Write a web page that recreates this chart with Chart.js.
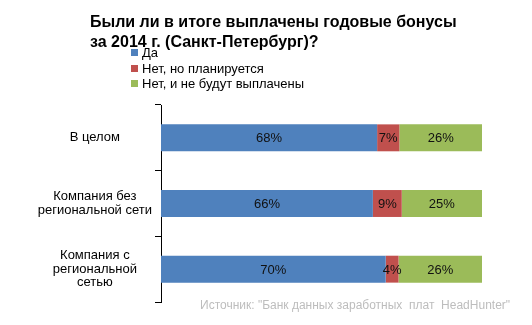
<!DOCTYPE html>
<html>
<head>
<meta charset="utf-8">
<script src="https://cdn.jsdelivr.net/npm/chart.js@4"></script>
<style>
  body { margin: 0; background: #fff; font-family: "Liberation Sans", Arial, sans-serif; }
  #wrap { position: relative; width: 532px; height: 325px; }
  #grafico { position: absolute; left: 0; top: 0; }
  #titulo { position: absolute; left: 90px; top: 12px; font-size: 16px; font-weight: bold; line-height: 20px; color: #000; }
  #leyenda { position: absolute; left: 131px; top: 45px; font-size: 13px; color: #000; }
  #leyenda div { height: 15.5px; line-height: 15.5px; white-space: nowrap; }
  #leyenda span { display: inline-block; width: 7px; height: 7px; margin-right: 4px; vertical-align: 1px; }
  #fuente { position: absolute; left: 200px; top: 298px; font-size: 12px; color: #bdbdbd; white-space: pre; }
</style>
</head>
<body>
<div id="wrap">
  <canvas id="grafico" width="532" height="325"></canvas>
  <div id="titulo">Были ли в итоге выплачены годовые бонусы<br>за 2014 г. (Санкт-Петербург)?</div>
  <div id="leyenda"></div>
  <div id="fuente">Источник: "Банк данных заработных  плат  HeadHunter"</div>
</div>
<script>
const categorias = [['В целом'], ['Компания без', 'региональной сети'], ['Компания с', 'региональной', 'сетью']];
const series = ['Да', 'Нет, но планируется', 'Нет, и не будут выплачены'];
const da = [68, 66, 70];
const planiruetsya = [7, 9, 4];
const neBudut = [26, 25, 26];
const colores = ['#4F81BD', '#C0504D', '#9BBB59'];

const valores = [da, planiruetsya, neBudut];
// 100% apilado, como en Excel
const totales = categorias.map((c, i) => da[i] + planiruetsya[i] + neBudut[i]);

const leyenda = document.getElementById('leyenda');
series.forEach((s, i) => {
  const d = document.createElement('div');
  d.innerHTML = `<span style="background:${colores[i]}"></span>${s}`;
  leyenda.appendChild(d);
});

// etiquetas dentro de las barras
const etiquetas = {
  id: 'etiquetas',
  afterDatasetsDraw(chart) {
    const ctx = chart.ctx;
    ctx.save();
    ctx.font = '13px "Liberation Sans", Arial, sans-serif';
    ctx.fillStyle = '#111';
    ctx.textAlign = 'center';
    ctx.textBaseline = 'middle';
    chart.data.datasets.forEach((ds, di) => {
      chart.getDatasetMeta(di).data.forEach((bar, i) => {
        ctx.fillText(valores[di][i] + '%', (bar.x + bar.base) / 2, bar.y + 1);
      });
    });
    ctx.restore();
  }
};

new Chart(document.getElementById('grafico'), {
  type: 'bar',
  data: {
    labels: categorias,
    datasets: series.map((s, i) => ({
      label: s,
      data: valores[i].map((v, j) => v / totales[j] * 100),
      backgroundColor: colores[i],
      categoryPercentage: 1,
      barPercentage: 0.41
    }))
  },
  options: {
    indexAxis: 'y',
    responsive: false,
    animation: false,
    layout: { padding: { top: 105, bottom: 23, right: 50, left: 0 } },
    plugins: { legend: { display: false }, tooltip: { enabled: false } },
    scales: {
      x: { stacked: true, min: 0, max: 100, display: false },
      y: {
        stacked: true,
        afterFit: s => { s.width = 161; },
        border: { display: true, color: '#000', width: 1 },
        grid: { drawOnChartArea: false, drawTicks: true, tickLength: 6, tickColor: '#000', offset: true },
        ticks: {
          crossAlign: 'center',
          padding: 3,
          color: '#000',
          font: { family: '"Liberation Sans", Arial, sans-serif', size: 13, lineHeight: 1.05 }
        }
      }
    }
  },
  plugins: [etiquetas]
});
</script>
</body>
</html>
